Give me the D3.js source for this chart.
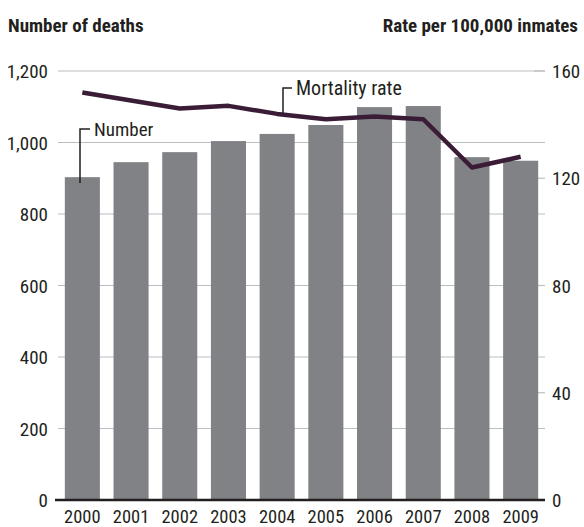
<!DOCTYPE html>
<html>
<head>
<meta charset="utf-8">
<script src="https://cdn.jsdelivr.net/npm/d3@7"></script>
<style>
  body { margin: 0; background: #fff; }
  text { font-family: "Liberation Sans Narrow", "Roboto Condensed", "DejaVu Sans Condensed", sans-serif; fill: #231f20; }
</style>
</head>
<body>
<div id="chart"></div>
<script>
// Data
var years = ["2000", "2001", "2002", "2003", "2004", "2005", "2006", "2007", "2008", "2009"];
var deaths = [903, 945, 973, 1004, 1024, 1049, 1099, 1102, 959, 949];
var rates = [152, 149, 146, 147, 144, 142, 143, 142, 124, 128];
var leftTicks = [0, 200, 400, 600, 800, 1000, 1200];
var rightTicks = [0, 40, 80, 120, 160];

var width = 584, height = 527;

var svg = d3.select("#chart").append("svg")
  .attr("width", width)
  .attr("height", height);

var x = d3.scaleBand()
  .domain(years)
  .range([58, 545])
  .paddingInner(0.28)
  .paddingOuter(0.14);

var yLeft = d3.scaleLinear().domain([0, 1200]).range([500, 71]);
var yRight = d3.scaleLinear().domain([0, 160]).range([500, 71]);

// Axis titles
svg.append("text")
  .attr("x", 8).attr("y", 32)
  .style("font-weight", "bold").style("font-size", "19px")
  .text("Number of deaths");

svg.append("text")
  .attr("x", 578).attr("y", 32)
  .attr("text-anchor", "end")
  .style("font-weight", "bold").style("font-size", "19px")
  .text("Rate per 100,000 inmates");

// Gridlines
svg.append("g")
  .selectAll("line")
  .data(leftTicks.filter(function (d) { return d > 0; }))
  .enter().append("line")
  .attr("x1", 58).attr("x2", 545)
  .attr("y1", function (d) { return yLeft(d); })
  .attr("y2", function (d) { return yLeft(d); })
  .style("stroke", "#bcbec0")
  .style("stroke-width", 1.2);

// Left tick labels
svg.append("g")
  .selectAll("text")
  .data(leftTicks)
  .enter().append("text")
  .attr("x", 48)
  .attr("y", function (d) { return yLeft(d) + 7; })
  .attr("text-anchor", "end")
  .style("font-size", "19px")
  .text(function (d) { return d3.format(",")(d); });

// Right ticks
var right = svg.append("g");
right.selectAll("line")
  .data(rightTicks)
  .enter().append("line")
  .attr("x1", 534).attr("x2", 545)
  .attr("y1", function (d) { return yRight(d); })
  .attr("y2", function (d) { return yRight(d); })
  .style("stroke", "#bcbec0")
  .style("stroke-width", 1.2);
right.selectAll("text")
  .data(rightTicks)
  .enter().append("text")
  .attr("x", 552)
  .attr("y", function (d) { return yRight(d) + 7; })
  .style("font-size", "19px")
  .text(function (d) { return d; });

// Bars
svg.append("g")
  .selectAll("rect")
  .data(deaths)
  .enter().append("rect")
  .attr("x", function (d, i) { return x(years[i]); })
  .attr("width", x.bandwidth())
  .attr("y", function (d) { return yLeft(d); })
  .attr("height", function (d) { return yLeft(0) - yLeft(d); })
  .style("fill", "#808285");

// Baseline
svg.append("line")
  .attr("x1", 55).attr("x2", 545)
  .attr("y1", yLeft(0)).attr("y2", yLeft(0))
  .style("stroke", "#231f20")
  .style("stroke-width", 2.5);

// Year labels
svg.append("g")
  .selectAll("text")
  .data(years)
  .enter().append("text")
  .attr("x", function (d) { return x(d) + x.bandwidth() / 2; })
  .attr("y", 523)
  .attr("text-anchor", "middle")
  .style("font-size", "18.5px")
  .text(function (d) { return d; });

// Mortality rate line
var line = d3.line()
  .x(function (d, i) { return x(years[i]) + x.bandwidth() / 2; })
  .y(function (d) { return yRight(d); });

svg.append("path")
  .datum(rates)
  .attr("d", line)
  .style("fill", "none")
  .style("stroke", "#3b1c37")
  .style("stroke-width", 4.5)
  .style("stroke-linejoin", "round");

// Annotations
svg.append("path")
  .attr("d", "M292,88H283V113")
  .style("fill", "none")
  .style("stroke", "#231f20")
  .style("stroke-width", 1.5);
svg.append("text")
  .attr("x", 296).attr("y", 95)
  .style("font-size", "20px")
  .text("Mortality rate");

svg.append("path")
  .attr("d", "M90,129H80V183")
  .style("fill", "none")
  .style("stroke", "#231f20")
  .style("stroke-width", 1.5);
svg.append("text")
  .attr("x", 94).attr("y", 136)
  .style("font-size", "19px")
  .text("Number");
</script>
</body>
</html>
